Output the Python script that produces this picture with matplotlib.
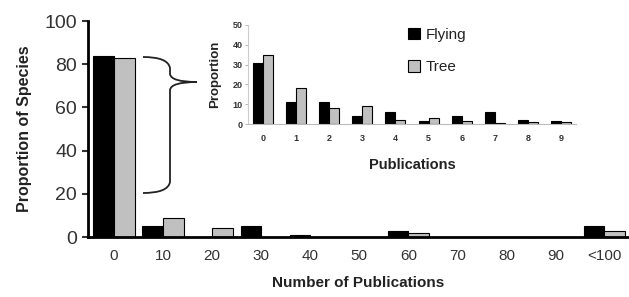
import matplotlib
matplotlib.use("Agg")
import matplotlib.pyplot as plt
import numpy as np
from matplotlib.path import Path
from matplotlib.patches import PathPatch

plt.rcParams['font.family'] = ['Liberation Sans', 'DejaVu Sans']

# Main chart data
main_cats = ["0", "10", "20", "30", "40", "50", "60", "70", "80", "90", "<100"]
main_flying = [84, 5, 0, 5, 1, 0, 3, 0, 0, 0, 5]
main_tree = [83, 9, 4, 0, 0, 0, 2, 0, 0, 0, 3]

# Inset data
inset_cats = ["0", "1", "2", "3", "4", "5", "6", "7", "8", "9"]
inset_flying = [31, 11, 11, 4, 6, 1.5, 4, 6, 2, 1.5]
inset_tree = [35, 18, 8, 9, 2, 3, 1.5, 0.5, 0.8, 1]

BLACK = "#000000"
GREY = "#c0c0c0"

W, H = 629, 297
fig = plt.figure(figsize=(W / 100, H / 100), dpi=100)

def fx(px):
    return px / W

def fy(py):
    return 1 - py / H

# ---- main axes ----
ax = fig.add_axes([fx(88), fy(237), fx(629) - fx(88), fy(21) - fy(237)])
x = np.arange(len(main_cats))
bw = 0.42
ax.bar(x - bw / 2, main_flying, width=bw, color=BLACK, edgecolor=BLACK, linewidth=0.8, label="Flying")
ax.bar(x + bw / 2, main_tree, width=bw, color=GREY, edgecolor=BLACK, linewidth=0.8, label="Tree")
ax.set_xlim(-0.53, 10.5)
ax.set_ylim(0, 100)
ax.set_yticks([0, 20, 40, 60, 80, 100])
ax.set_xticks(x)
ax.set_xticklabels(main_cats)
ax.tick_params(axis='y', labelsize=14, length=4, width=1.5, pad=4, colors="#333333", labelcolor="#333333")
ax.tick_params(axis='x', labelsize=11, length=0, pad=9, labelcolor="#333333")
for s in ["top", "right"]:
    ax.spines[s].set_visible(False)
ax.spines["left"].set_linewidth(2)
ax.spines["bottom"].set_linewidth(2)
ax.set_ylabel("Proportion of Species", fontsize=11.5, fontweight="bold", labelpad=9, color="#222222")
ax.set_xlabel("Number of Publications", fontsize=11, fontweight="bold", labelpad=9, color="#222222")

# ---- inset axes ----
ai = fig.add_axes([fx(248), fy(124), fx(576) - fx(248), fy(25) - fy(124)])
xi = np.arange(len(inset_cats))
bwi = 0.3
ai.bar(xi - bwi / 2, inset_flying, width=bwi, color=BLACK, edgecolor=BLACK, linewidth=0.8, label="Flying")
ai.bar(xi + bwi / 2, inset_tree, width=bwi, color=GREY, edgecolor=BLACK, linewidth=0.8, label="Tree")
ai.set_xlim(-0.45, 9.45)
ai.set_ylim(0, 50)
ai.set_yticks([0, 10, 20, 30, 40, 50])
ai.set_xticks(xi)
ai.set_xticklabels(inset_cats)
for lab in ai.get_xticklabels() + ai.get_yticklabels():
    lab.set_fontweight("bold")
ai.tick_params(axis='y', labelsize=6.5, length=2, width=0.6, color="#aaaaaa", pad=2, labelcolor="#333333")
ai.tick_params(axis='x', labelsize=6.5, length=0, pad=7, labelcolor="#333333")
for s in ["top", "right"]:
    ai.spines[s].set_visible(False)
ai.spines["left"].set_color("#cccccc")
ai.spines["left"].set_linewidth(0.8)
ai.spines["bottom"].set_color("#bbbbbb")
ai.spines["bottom"].set_linewidth(0.8)
ai.patch.set_alpha(0)
ai.set_ylabel("Proportion", fontsize=9.5, fontweight="bold", labelpad=8, color="#222222")
ai.set_xlabel("Publications", fontsize=10.5, fontweight="bold", labelpad=11, color="#222222")
leg = ai.legend(loc="upper left", bbox_to_anchor=(fx(408), fy(28)), bbox_transform=fig.transFigure,
                frameon=False, fontsize=11, borderpad=0, borderaxespad=0,
                handlelength=0.78, handleheight=0.78, handletextpad=0.35, labelspacing=1.2)
for t in leg.get_texts():
    t.set_color("#222222")

# ---- curly brace annotation (pixel coords -> figure fraction) ----
verts = [(fx(px), fy(py)) for px, py in [
    (143, 57), (168, 57), (170, 68),
    (170, 74),
    (171, 82), (197, 82),
    (171, 82), (170, 90),
    (170, 182),
    (168, 193), (143, 193),
]]
codes = [Path.MOVETO, Path.CURVE3, Path.CURVE3,
         Path.LINETO,
         Path.CURVE3, Path.CURVE3,
         Path.CURVE3, Path.CURVE3,
         Path.LINETO,
         Path.CURVE3, Path.CURVE3]
brace = PathPatch(Path(verts, codes), transform=fig.transFigure, fill=False,
                  edgecolor="#222222", linewidth=1.3)
fig.add_artist(brace)

fig.savefig("out.png", dpi=100)
